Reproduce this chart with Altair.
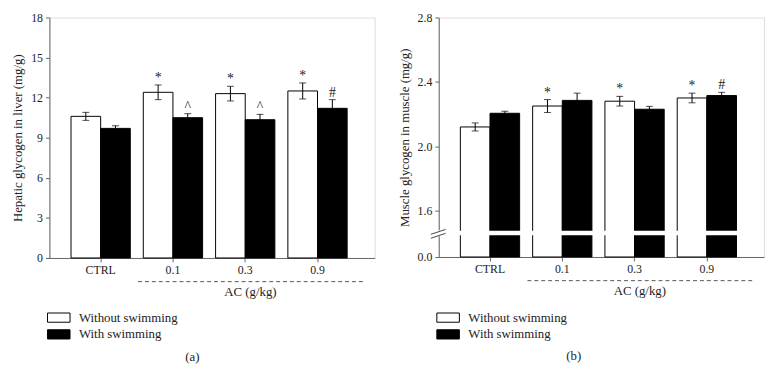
import altair as alt
import pandas as pd

groups = ["CTRL", "0.1", "0.3", "0.9"]
series = ["Without swimming", "With swimming"]

liver_without = [10.6, 12.4, 12.3, 12.5]
liver_without_err = [0.3, 0.55, 0.55, 0.6]
liver_with = [9.7, 10.5, 10.35, 11.2]
liver_with_err = [0.2, 0.3, 0.4, 0.65]
liver_sig_without = ["", "*", "*", "*"]
liver_sig_with = ["", "^", "^", "#"]

muscle_without = [2.12, 2.25, 2.28, 2.30]
muscle_without_err = [0.025, 0.04, 0.03, 0.03]
muscle_with = [2.205, 2.285, 2.23, 2.315]
muscle_with_err = [0.012, 0.045, 0.018, 0.02]
muscle_sig_without = ["", "*", "*", "*"]
muscle_sig_with = ["", "", "", "#"]

liver_ticks = [0, 3, 6, 9, 12, 15, 18]
muscle_ticks = [0.0, 1.6, 2.0, 2.4, 2.8]

FONT = "Liberation Serif"
W = 330
TXT = "#222222"


def make_df(m1, e1, s1, m2, e2, s2):
    rows = []
    for i, g in enumerate(groups):
        rows.append(dict(group=g, series=series[0], mean=m1[i], lo=m1[i] - e1[i], hi=m1[i] + e1[i], sig=s1[i]))
        rows.append(dict(group=g, series=series[1], mean=m2[i], lo=m2[i] - e2[i], hi=m2[i] + e2[i], sig=s2[i]))
    return pd.DataFrame(rows)


def panel(df, yscale, ticks, fmt, ytitle, height, letter, letter_x, broken=False):
    one = alt.Chart(pd.DataFrame({"k": [0]}))
    xenc = alt.X("group:N", sort=groups,
                 scale=alt.Scale(paddingInner=0.18, paddingOuter=0.34, align=0.44),
                 axis=alt.Axis(title=None, labelAngle=0, labelFont=FONT, labelFontSize=12,
                               labelColor=TXT, domainColor="#666", tickColor="#666",
                               tickSize=4, labelPadding=3))
    xoff = alt.XOffset("series:N", sort=series, scale=alt.Scale(paddingInner=0, paddingOuter=0))
    yenc = alt.Y("mean:Q", scale=yscale,
                 axis=alt.Axis(title=ytitle, values=ticks, format=fmt, grid=False,
                               labelFont=FONT, labelFontSize=12, labelColor=TXT,
                               titleFont=FONT, titleFontSize=13, titleFontWeight="normal",
                               titleColor=TXT, domainColor="#666", tickColor="#666",
                               tickSize=4, labelPadding=3, titlePadding=6))
    base = alt.Chart(df)
    bars = base.mark_bar(stroke="black", strokeWidth=1).encode(
        x=xenc, xOffset=xoff, y=yenc,
        fill=alt.Fill("series:N", sort=series,
                      scale=alt.Scale(domain=series, range=["white", "black"]),
                      legend=alt.Legend(title=None, orient="none", legendX=0, legendY=295,
                                        symbolType="M-1.27,-0.52H1.27V0.52H-1.27Z", symbolSize=324,
                                        symbolStrokeColor="black", symbolStrokeWidth=1,
                                        labelFont=FONT, labelFontSize=13, labelColor=TXT,
                                        labelOffset=11, rowPadding=0, direction="vertical")))
    err = base.mark_rule(color="black", strokeWidth=1).encode(
        x=alt.X("group:N", sort=groups), xOffset=xoff, y="lo:Q", y2="hi:Q")
    cap_lo = base.mark_tick(color="black", thickness=1, size=7).encode(
        x=alt.X("group:N", sort=groups), xOffset=xoff, y="lo:Q")
    cap_hi = base.mark_tick(color="black", thickness=1, size=7).encode(
        x=alt.X("group:N", sort=groups), xOffset=xoff, y="hi:Q")
    sig = base.mark_text(font=FONT, fontSize=14, baseline="alphabetic", dy=-3).encode(
        x=alt.X("group:N", sort=groups), xOffset=xoff, y="hi:Q", text="sig:N",
        fill=alt.value(TXT))
    dash = one.mark_rule(color="#555", strokeDash=[4, 3], strokeWidth=1).encode(
        x=alt.value(90), x2=alt.value(321), y=alt.value(height + 24))
    ac = one.mark_text(font=FONT, fontSize=13, baseline="middle").encode(
        x=alt.value(204), y=alt.value(height + 35), text=alt.value("AC (g/kg)"),
        fill=alt.value(TXT))
    lab = one.mark_text(font=FONT, fontSize=13, baseline="middle").encode(
        x=alt.value(letter_x), y=alt.value(height + 101), text=alt.value(letter),
        fill=alt.value(TXT))
    layers = [bars, err, cap_lo, cap_hi, sig, dash, ac, lab]
    if broken:
        gap = one.mark_rect(color="white").encode(
            x=alt.value(1), x2=alt.value(W), y=alt.datum(0.75), y2=alt.datum(0.91))
        axgap = one.mark_rect(color="white").encode(
            x=alt.value(-2), x2=alt.value(2), y=alt.value(216), y2=alt.value(222))
        s1 = one.mark_rule(color="#444", strokeWidth=1).encode(
            x=alt.value(-8), x2=alt.value(7), y=alt.value(220), y2=alt.value(215))
        s2 = one.mark_rule(color="#444", strokeWidth=1).encode(
            x=alt.value(-8), x2=alt.value(7), y=alt.value(224), y2=alt.value(219))
        layers += [gap, axgap, s1, s2]
    return alt.layer(*layers).properties(width=W, height=height)


liver_df = make_df(liver_without, liver_without_err, liver_sig_without,
                   liver_with, liver_with_err, liver_sig_with)
muscle_df = make_df(muscle_without, muscle_without_err, muscle_sig_without,
                    muscle_with, muscle_with_err, muscle_sig_with)

left = panel(liver_df, alt.Scale(domain=[0, 18], nice=False, zero=True), liver_ticks, "d",
             "Hepatic glycogen in liver (mg/g)", 244, "(a)", 145)
right = panel(muscle_df, alt.Scale(domain=[0, 1.6, 2.8], range=[243, 196, 0], nice=False, zero=False),
              muscle_ticks, ".1f", "Muscle glycogen in muscle (mg/g)", 243, "(b)", 137, broken=True)

chart = alt.hconcat(left, right, spacing=22).resolve_scale(fill="independent").properties(
    padding={"left": 3, "top": 0, "right": 0, "bottom": 0}
).configure_view(stroke=None).configure(background="white")

chart.save("out.html", embed_options={"renderer": "svg", "actions": False})
